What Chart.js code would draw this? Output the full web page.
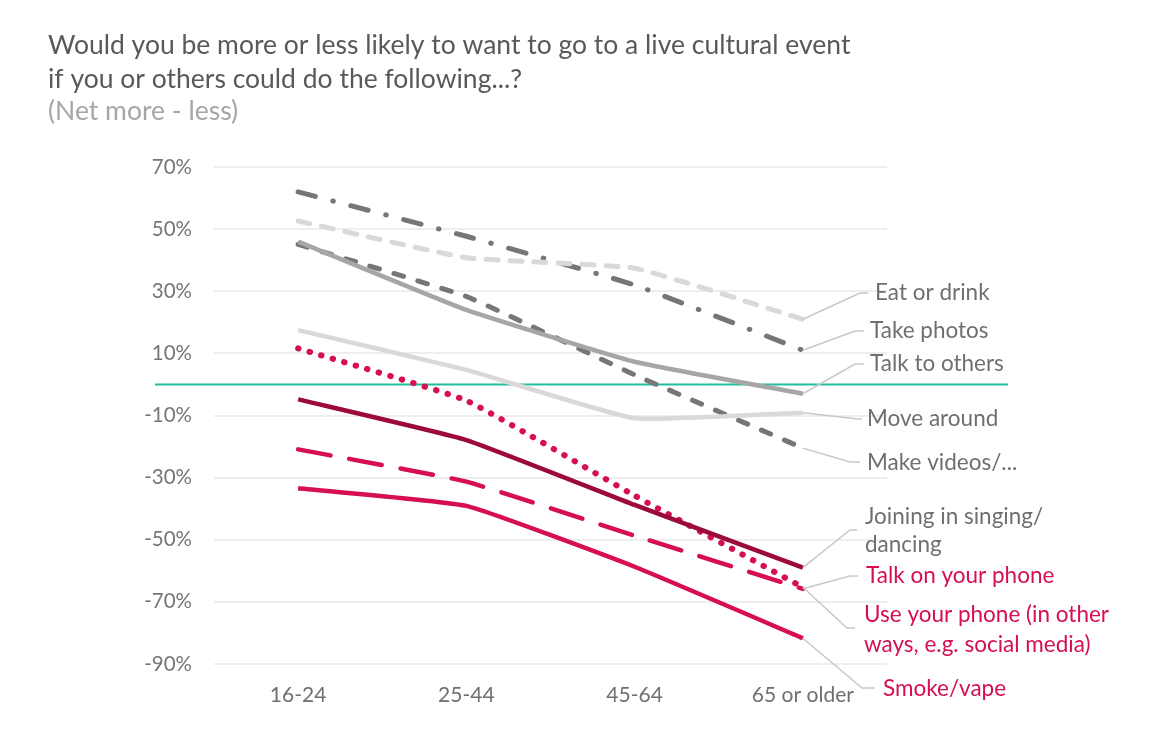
<!DOCTYPE html>
<html><head><meta charset="utf-8">
<script src="https://cdn.jsdelivr.net/npm/chart.js@4"></script>
<style>html,body{margin:0;padding:0;background:#fff;} #wrap{width:1161px;height:746px;position:relative}</style>
</head><body><div id="wrap"><canvas id="c" width="1161" height="746"></canvas></div>
<script>
// ---- data ----
const categories = ['16-24', '25-44', '45-64', '65 or older'];
const eatOrDrink     = [52.6, 40.8, 37.4, 21.0];
const takePhotos     = [62.0, 47.7, 32.0, 11.0];
const talkToOthers   = [46.0, 24.0, 7.3, -3.0];
const moveAround     = [17.5, 4.7, -10.9, -9.1];
const makeVideos     = [45.1, 28.3, 3.1, -20.5];
const joiningSinging = [-4.8, -17.9, -38.8, -59.0];
const talkOnPhone    = [-20.9, -31.3, -48.7, -65.8];
const usePhone       = [11.6, -5.2, -35.8, -65.3];
const smokeVape      = [-33.4, -39.1, -58.7, -81.7];
const yTicks = [-90, -70, -50, -30, -10, 10, 30, 50, 70];
const seriesLabels = [
  ['Eat or drink'], ['Take photos'], ['Talk to others'], ['Move around'], ['Make videos/...'],
  ['Joining in singing/', 'dancing'], ['Talk on your phone'],
  ['Use your phone (in other', 'ways, e.g. social media)'], ['Smoke/vape']
];
const titleLines = ['Would you be more or less likely to want to go to a live cultural event',
                    'if you or others could do the following...?'];
const subtitle = '(Net more - less)';

// ---- styles ----
const GREY_L = '#d9d9d9', GREY_M = '#a6a6a6', GREY_D = '#767676';
const RED = '#d60f50', RED_D = '#9c0a3b';
const LABEL_GREY = '#6f6f6f';

function ds(data, color, dash, cap, w) {
  return { data, borderColor: color, backgroundColor: color, borderWidth: w || 4.5, borderDash: dash || [],
           borderCapStyle: cap || 'butt', pointRadius: 0, tension: 0.12, fill: false };
}
const datasets = [
  ds(talkToOthers, GREY_M),
  ds(eatOrDrink, GREY_L, [12, 12], 'round', 5),
  ds(takePhotos, GREY_D, [18, 18, 0.5, 18], 'round', 5),
  ds(moveAround, GREY_L),
  ds(makeVideos, GREY_D, [10, 15], 'round', 5),
  ds(joiningSinging, RED_D),
  ds(talkOnPhone, RED, [33, 19], 'round'),
  ds(usePhone, RED, [0.5, 11.5], 'round', 6),
  ds(smokeVape, RED)
];
// label layout: dataset index, elbow point, text x, text y centres, colour
const labelLayout = [
  { d: 1, lab: 0, ex: 860, ey: 293, hx: 868, tx: 875, ty: [293], c: LABEL_GREY },
  { d: 2, lab: 1, ex: 855, ey: 331, hx: 864, tx: 870, ty: [331], c: LABEL_GREY },
  { d: 0, lab: 2, ex: 855, ey: 364, hx: 864, tx: 870, ty: [364], c: LABEL_GREY },
  { d: 3, lab: 3, ex: 858, ey: 419, hx: 862, tx: 867, ty: [419], c: LABEL_GREY },
  { d: 4, lab: 4, ex: 850, ey: 462, hx: 860, tx: 867, ty: [463], c: LABEL_GREY },
  { d: 5, lab: 5, ex: 850, ey: 530, hx: 857, tx: 865, ty: [517, 545], c: LABEL_GREY },
  { d: 6, lab: 6, ex: 850, ey: 576, hx: 858, tx: 866, ty: [576], c: RED },
  { d: 7, lab: 7, ex: 847, ey: 628, hx: 855, tx: 864, ty: [615, 645], c: RED },
  { d: 8, lab: 8, ex: 862, ey: 688, hx: 875, tx: 883, ty: [689], c: RED }
];

const FONT = 'Lato, "Open Sans", sans-serif';

const decor = {
  id: 'decor',
  beforeDatasetsDraw(chart) {
    const ctx = chart.ctx, y = chart.scales.y.getPixelForValue(0);
    ctx.save();
    ctx.strokeStyle = '#22bf9e'; ctx.lineWidth = 2;
    ctx.beginPath(); ctx.moveTo(155, y); ctx.lineTo(1008, y); ctx.stroke();
    ctx.restore();
  },
  afterDraw(chart) {
    const ctx = chart.ctx;
    ctx.save();
    // title
    ctx.textBaseline = 'middle'; ctx.textAlign = 'left';
    ctx.font = '26.5px ' + FONT;
    ctx.fillStyle = '#595959';
    ctx.fillText(titleLines[0], 48, 45);
    ctx.fillText(titleLines[1], 48, 79);
    ctx.fillStyle = '#a6a6a6';
    ctx.fillText(subtitle, 48, 111);
    // leader lines + labels
    ctx.font = '22.5px ' + FONT;
    labelLayout.forEach(L => {
      const meta = chart.getDatasetMeta(L.d);
      const p = meta.data[meta.data.length - 1];
      ctx.strokeStyle = '#c8c8c8'; ctx.lineWidth = 1.5;
      ctx.beginPath(); ctx.moveTo(p.x, p.y); ctx.lineTo(L.ex, L.ey); ctx.lineTo(L.hx, L.ey); ctx.stroke();
      ctx.fillStyle = L.c;
      seriesLabels[L.lab].forEach((t, i) => ctx.fillText(t, L.tx, L.ty[i]));
    });
    ctx.restore();
  }
};

new Chart(document.getElementById('c'), {
  type: 'line',
  data: { labels: categories, datasets },
  options: {
    responsive: false, animation: false, devicePixelRatio: 1,
    layout: { padding: { left: 0, right: 274, top: 167, bottom: 0 } },
    plugins: { legend: { display: false }, tooltip: { enabled: false } },
    scales: {
      x: {
        offset: true,
        grid: { display: false, drawTicks: false },
        border: { display: false },
        ticks: { color: '#6f6f6f', font: { family: FONT, size: 21 }, padding: 19, maxRotation: 0 },
        afterFit(s) { s.height = 82; }
      },
      y: {
        min: -90, max: 70,
        afterBuildTicks(s) { s.ticks = yTicks.map(v => ({ value: v })); },
        grid: { color: '#eeeeee', lineWidth: 2, drawTicks: false },
        border: { display: false },
        ticks: { color: '#767676', font: { family: FONT, size: 20.5 }, padding: 22, callback: v => v + '%' },
        afterFit(s) { s.width = 214; }
      }
    }
  },
  plugins: [decor]
});
</script>
</body></html>
